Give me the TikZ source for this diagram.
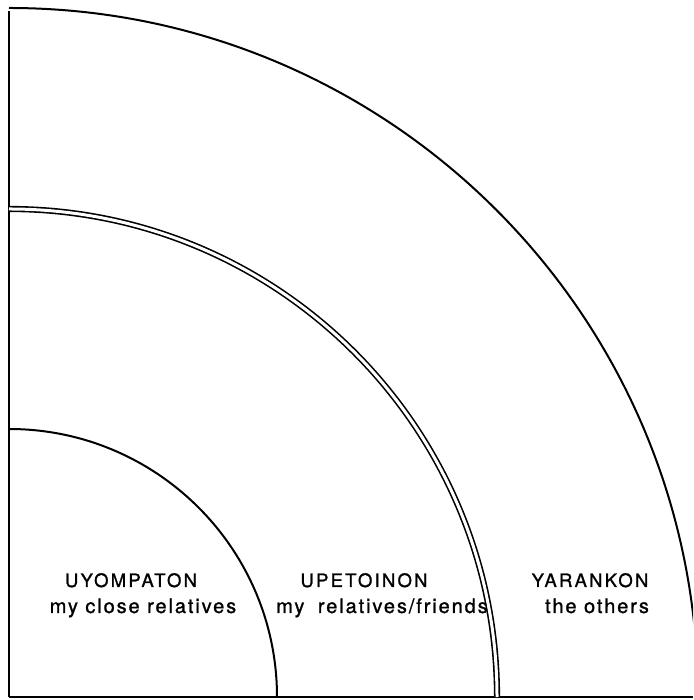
\documentclass[tikz,border=0pt]{standalone}
\usepackage{fontspec}
\setsansfont{TeX Gyre Heros}
\newfontfamily\zonefont[LetterSpace=12, FakeBold=1.2]{TeX Gyre Heros}
\newfontfamily\whofont[LetterSpace=9.5, FakeBold=1.2]{TeX Gyre Heros}
\usetikzlibrary{positioning}

\begin{document}
\begin{tikzpicture}[x=1pt, y=1pt,
    ring/.style={line width=2pt},
    zone/.style={font=\zonefont\fontsize{18.5}{20}\selectfont, anchor=base, inner sep=0pt},
    who/.style={font=\whofont\fontsize{20}{22}\selectfont, anchor=base, inner sep=0pt}]
        \def\Rin{268}
        \def\Rmid{488}
        \def\Rout{689}

        \useasboundingbox (-9,-3) rectangle (684,697);
        \coordinate (O) at (0,0);
        \coordinate (Top) at (0,686);
        \coordinate (Right) at (684,0);

        % the outer ring runs off the page on the right
        \begin{scope}
            \clip (-9,-3) rectangle (684,697);
            \draw[ring] (\Rout,0) arc (0:90:\Rout);
        \end{scope}
        \draw[ring] (O) -- (Top);
        \draw[line width=1.6pt] (O) -- (Right);

        \draw[ring] (\Rin,0) arc (0:90:\Rin);
        \draw[line width=1.6pt, double, double distance=3pt] (\Rmid,0) arc (0:90:\Rmid);

        \node[zone] (uyo) at (122,110) {UYOMPATON};
        \node[who] (uyoTxt) at (134,84) {my close relatives};
        \node[zone] (upe) at (355,110) {UPETOINON};
        \node[who] (upeTxt) at (373,84) {my\hspace{6pt} relatives/friends};
        \node[zone] (yar) at (581,110) {YARANKON};
        \node[who] (yarTxt) at (588,84) {the others};
    \end{tikzpicture}
\end{document}
